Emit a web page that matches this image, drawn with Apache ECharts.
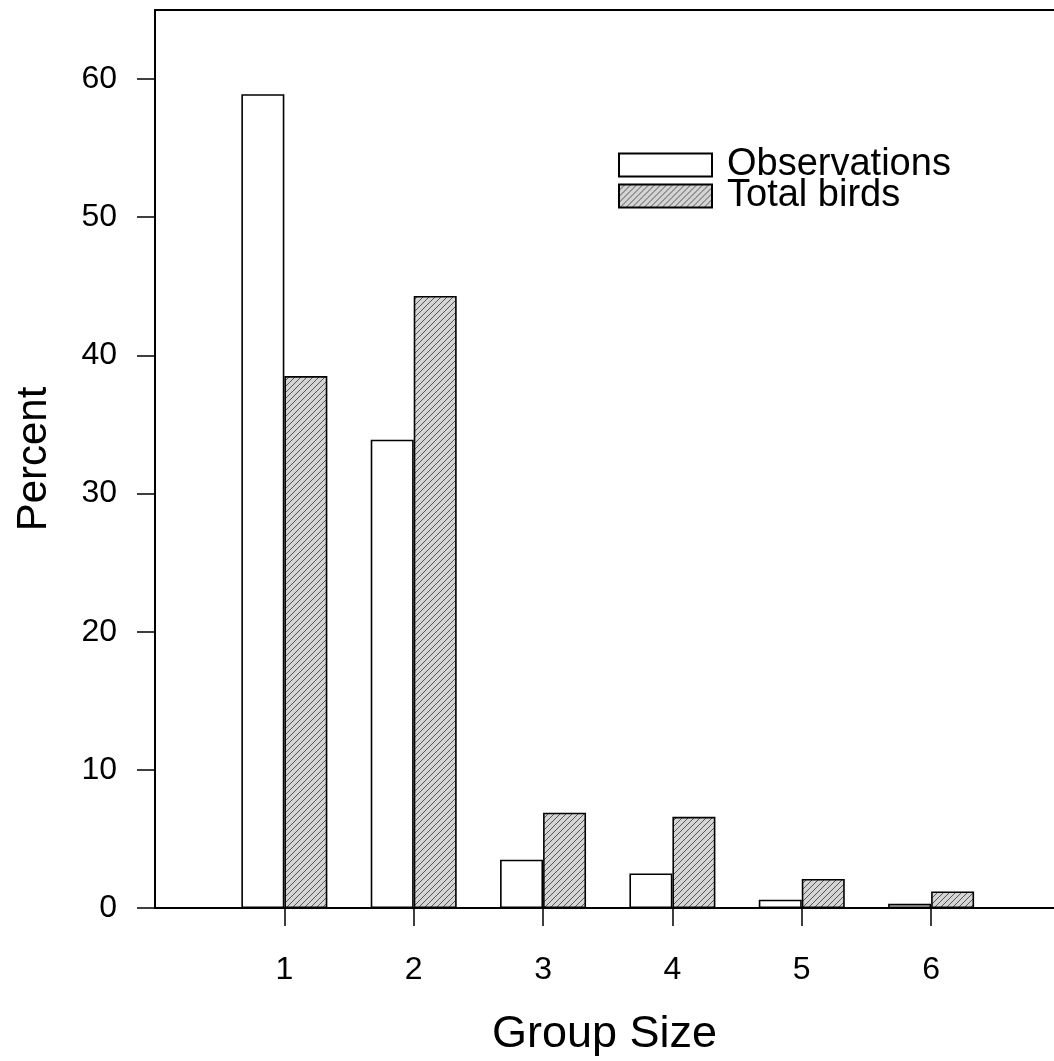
<!DOCTYPE html>
<html>
<head>
<meta charset="utf-8">
<script src="https://cdn.jsdelivr.net/npm/echarts@6/dist/echarts.min.js"></script>
<style>html,body{margin:0;padding:0;background:#fff}#c{width:1054px;height:1061px}</style>
</head>
<body>
<div id="c"></div>
<script>
var groupSizes = [1, 2, 3, 4, 5, 6];
var observations = [58.9, 33.9, 3.5, 2.5, 0.6, 0.3];
var totalBirds = [38.5, 44.3, 6.9, 6.6, 2.1, 1.2];
var yTicks = [0, 10, 20, 30, 40, 50, 60];
var seriesNames = ['Observations', 'Total birds'];

function makePattern() {
  var c = document.createElement('canvas');
  c.width = 6; c.height = 6;
  var g = c.getContext('2d');
  g.fillStyle = '#d4d4d4';
  g.fillRect(0, 0, 6, 6);
  g.strokeStyle = '#555';
  g.lineWidth = 1;
  g.beginPath();
  g.moveTo(-1, 7); g.lineTo(7, -1);
  g.moveTo(-4, 4); g.lineTo(4, -4);
  g.moveTo(2, 10); g.lineTo(10, 2);
  g.stroke();
  return c;
}
var pat = makePattern();

var font = 'Liberation Sans, Arial, sans-serif';
var chart = echarts.init(document.getElementById('c'), null, {renderer: 'canvas'});
chart.setOption({
  animation: false,
  backgroundColor: '#fff',
  grid: {left: 155, right: 0, top: 10, bottom: 153, containLabel: false, outerBoundsMode: 'none'},
  legend: {
    orient: 'vertical', left: 613, top: 141,
    icon: 'rect',
    itemWidth: 93, itemHeight: 23, itemGap: -7,
    textStyle: {fontFamily: font, fontSize: 38, color: '#000', padding: [0,0,0,10]},
    data: seriesNames
  },
  xAxis: [{
    type: 'value', min: 0, max: 6.95,
    name: 'Group Size', nameLocation: 'middle', nameGap: 104,
    nameTextStyle: {fontFamily: font, fontSize: 45, color: '#000'},
    axisLine: {show: true, onZero: false, lineStyle: {color: '#000', width: 2}},
    axisTick: {show: true, inside: false, length: 18, lineStyle: {color: '#000', width: 1.5}, customValues: groupSizes},
    axisLabel: {fontFamily: font, fontSize: 32, color: '#000', margin: 46, customValues: groupSizes},
    splitLine: {show: false}
  }, {
    type: 'value', position: 'top', min: 0, max: 6.95,
    axisLine: {show: true, onZero: false, lineStyle: {color: '#000', width: 2}},
    axisTick: {show: false}, axisLabel: {show: false}, splitLine: {show: false}
  }],
  yAxis: {
    type: 'value', min: 0, max: 65,
    name: 'Percent', nameLocation: 'middle', nameGap: 100,
    nameTextStyle: {fontFamily: font, fontSize: 42, color: '#000'},
    axisLine: {show: true, lineStyle: {color: '#000', width: 2}},
    axisTick: {show: true, inside: false, length: 18, lineStyle: {color: '#000', width: 1.5}, customValues: yTicks},
    axisLabel: {fontFamily: font, fontSize: 32, color: '#000', margin: 38, customValues: yTicks},
    splitLine: {show: false}
  },
  series: [{
    name: seriesNames[0], type: 'bar', barWidth: 43, barGap: '0%',
    itemStyle: {color: '#fff', borderColor: '#000', borderWidth: 1.6},
    data: groupSizes.map(function (g, i) { return [g, observations[i]]; })
  }, {
    name: seriesNames[1], type: 'bar', barWidth: 43, barGap: '0%',
    itemStyle: {color: {image: pat, repeat: 'repeat'}, borderColor: '#000', borderWidth: 1.6},
    data: groupSizes.map(function (g, i) { return [g, totalBirds[i]]; })
  }]
});
</script>
</body>
</html>
